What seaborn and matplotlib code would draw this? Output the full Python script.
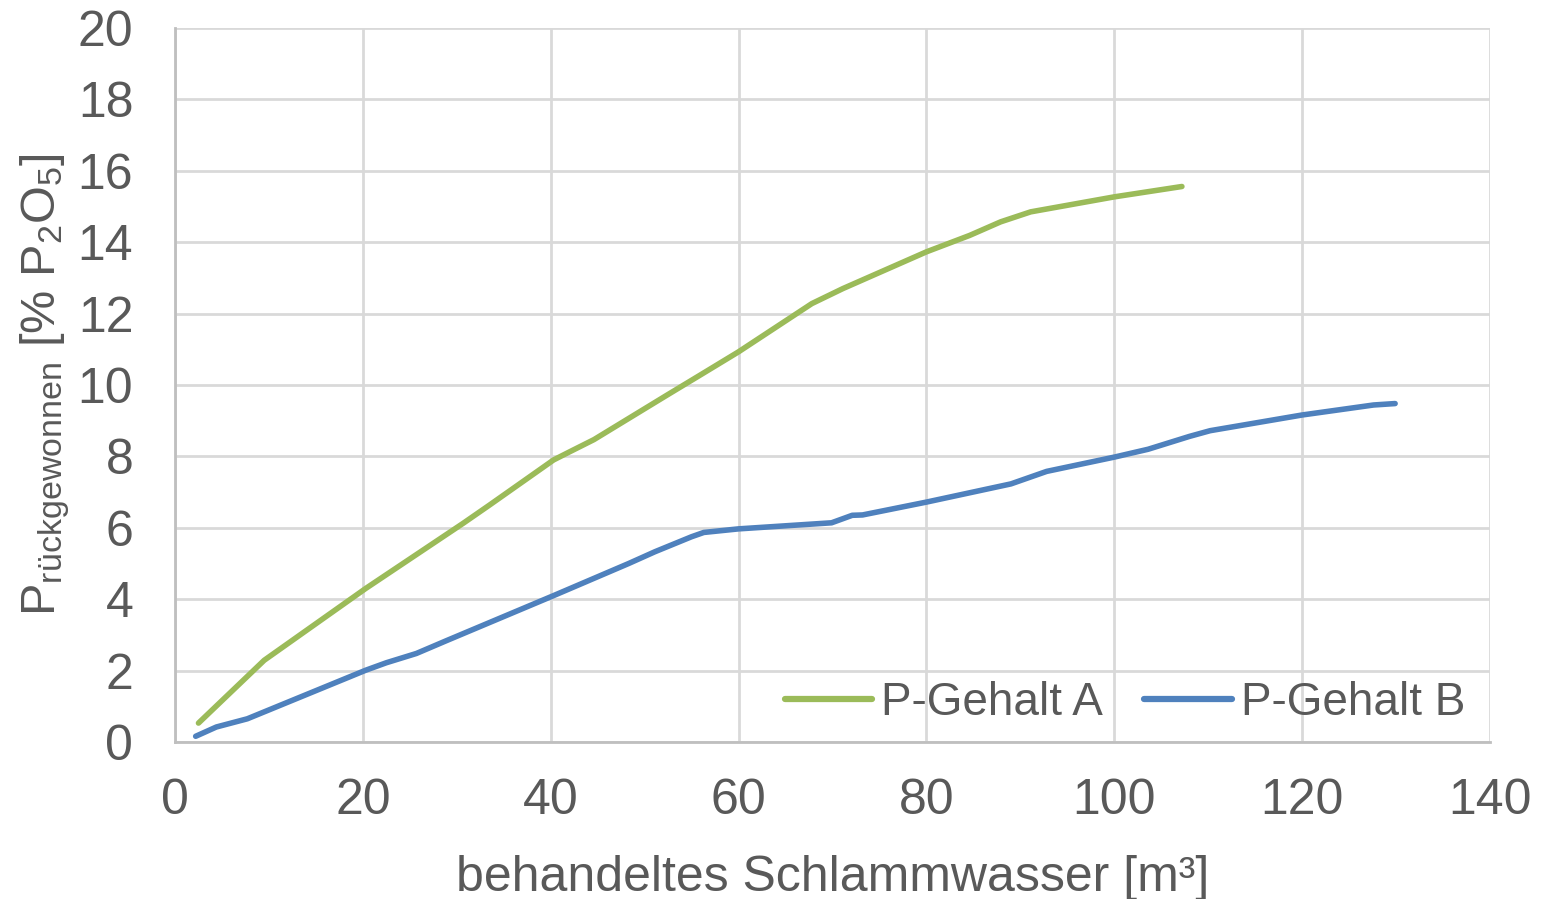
import matplotlib
matplotlib.use("Agg")
import matplotlib.pyplot as plt
import seaborn as sns
import pandas as pd

# Data
x_a = [2.5, 9.5, 20.3, 30.7, 33.5, 40.3, 42.1, 44.6, 52.4, 55.8, 60.0, 67.8, 71.1,
       80.0, 84.6, 87.9, 91.1, 100.0, 107.2]
y_a = [0.53, 2.29, 4.30, 6.13, 6.64, 7.90, 8.14, 8.47, 9.72, 10.26, 10.93, 12.28, 12.70,
       13.73, 14.19, 14.57, 14.85, 15.27, 15.56]
x_b = [2.2, 4.4, 7.7, 20.3, 22.5, 25.7, 29.0, 40.3, 48.3, 51.1, 55.0, 56.3, 60.0, 69.9,
       72.1, 73.2, 80.0, 89.0, 92.8, 100.0, 103.6, 108.0, 110.2, 120.0, 127.6, 129.9]
y_b = [0.16, 0.42, 0.65, 2.01, 2.22, 2.48, 2.85, 4.10, 5.00, 5.33, 5.75, 5.87, 5.97, 6.14,
       6.35, 6.36, 6.72, 7.23, 7.58, 7.98, 8.20, 8.56, 8.72, 9.16, 9.44, 9.48]
series_names = ["P-Gehalt A", "P-Gehalt B"]
x_ticks = [0, 20, 40, 60, 80, 100, 120, 140]
y_ticks = [0, 2, 4, 6, 8, 10, 12, 14, 16, 18, 20]
x_label = "behandeltes Schlammwasser [m³]"
y_label = r"$\mathrm{P_{rückgewonnen}\ [\%\ P_2O_5]}$"

df = pd.concat([
    pd.DataFrame({"x": x_a, "y": y_a, "Serie": series_names[0]}),
    pd.DataFrame({"x": x_b, "y": y_b, "Serie": series_names[1]}),
], ignore_index=True)

sns.set_theme(style="white")
plt.rcParams["font.family"] = ["Liberation Sans", "DejaVu Sans"]
plt.rcParams["mathtext.fontset"] = "custom"
plt.rcParams["mathtext.rm"] = "Liberation Sans"
plt.rcParams["mathtext.it"] = "Liberation Sans"
plt.rcParams["mathtext.bf"] = "Liberation Sans"

txt = "#595959"
grid = "#d9d9d9"

fig = plt.figure(figsize=(15.41, 8.99), dpi=100)
ax = fig.add_axes([175 / 1541, 1 - 742 / 899, (1490 - 175) / 1541, (742 - 28) / 899])

sns.lineplot(data=df, x="x", y="y", hue="Serie", sort=False, estimator=None,
             palette={"P-Gehalt A": "#9bbb59", "P-Gehalt B": "#4f81bd"},
             linewidth=4.0, ax=ax)
for ln in ax.get_lines():
    ln.set_solid_capstyle("round")
    ln.set_solid_joinstyle("round")

ax.set_xlim(0, 140)
ax.set_ylim(0, 20)
ax.set_xticks(x_ticks)
ax.set_yticks(y_ticks)
ax.grid(True, color=grid, linewidth=2)
ax.set_axisbelow(True)
for s in ["top", "right"]:
    ax.spines[s].set_visible(False)
for s in ["left", "bottom"]:
    ax.spines[s].set_color("#bfbfbf")
    ax.spines[s].set_linewidth(2)

ax.tick_params(axis="both", length=0, labelsize=36, labelcolor=txt)
ax.tick_params(axis="y", pad=30)
ax.tick_params(axis="x", pad=26)

ax.set_xlabel(x_label, fontsize=36, color=txt, labelpad=22)
ax.set_ylabel(y_label, fontsize=35, color=txt, labelpad=4)

leg = ax.legend(loc="center right", bbox_to_anchor=(0.995, 0.055), ncol=2, frameon=False,
                fontsize=33, handlelength=1.9, handletextpad=0.2, columnspacing=0.9,
                borderaxespad=0)
for t in leg.get_texts():
    t.set_color(txt)
for h in leg.get_lines():
    h.set_linewidth(4.5)
    h.set_solid_capstyle("round")

fig.savefig("out.png", dpi=100)
